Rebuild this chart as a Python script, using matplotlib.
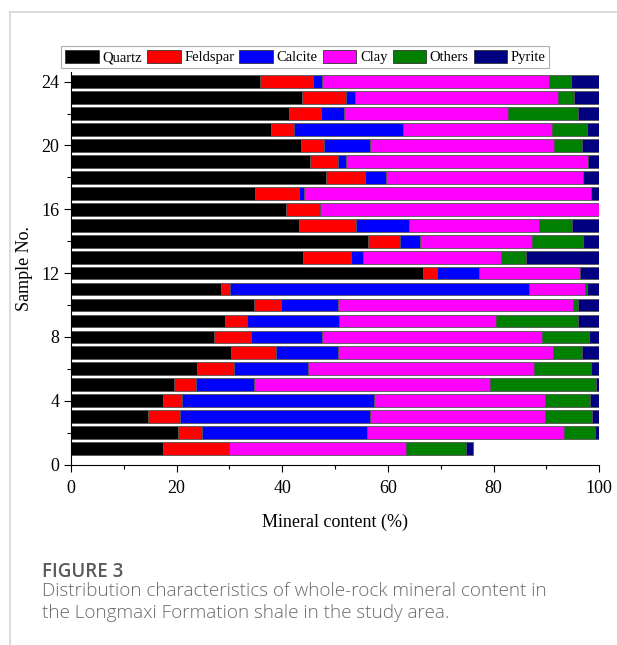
import numpy as np
import matplotlib.pyplot as plt
from matplotlib.ticker import MultipleLocator
from matplotlib.lines import Line2D

# whole-rock mineral content (%) of samples 1..24
samples = np.arange(1, 25)
quartz = [17.4, 20.3, 14.5, 17.5, 19.4, 23.9, 30.2, 27.1, 29.2, 34.7, 28.3, 66.6,
          44.0, 56.3, 43.2, 40.7, 34.8, 48.2, 45.3, 43.5, 37.9, 41.3, 43.7, 35.8]
feldspar = [12.5, 4.5, 6.2, 3.5, 4.3, 7.0, 8.6, 6.9, 4.2, 5.1, 1.8, 2.6,
            9.0, 6.0, 10.8, 6.5, 8.4, 7.4, 5.2, 4.4, 4.3, 6.0, 8.4, 10.1]
calcite = [0.0, 31.2, 35.9, 36.4, 11.0, 14.0, 11.8, 13.5, 17.4, 10.8, 56.6, 8.0,
           2.2, 3.8, 10.0, 0.0, 0.9, 4.1, 1.5, 8.7, 20.6, 4.3, 1.6, 1.6]
clay = [33.6, 37.4, 33.2, 32.4, 44.7, 42.8, 40.7, 41.6, 29.6, 44.5, 10.5, 19.1,
        26.2, 21.2, 24.6, 52.8, 54.3, 37.2, 45.8, 34.9, 28.2, 31.2, 38.4, 43.0]
others = [11.3, 5.7, 8.8, 8.5, 20.0, 10.8, 5.5, 8.9, 15.6, 0.8, 0.5, 0.0,
          4.7, 9.7, 6.3, 0.0, 0.0, 0.0, 0.0, 5.2, 6.7, 13.2, 3.2, 4.1]
pyrite = [1.2, 0.9, 1.4, 1.7, 0.6, 1.5, 3.2, 2.0, 4.0, 4.1, 2.3, 3.7,
          13.9, 3.0, 5.1, 0.0, 1.6, 3.1, 2.2, 3.3, 2.3, 4.0, 4.7, 5.4]

names = ["Quartz", "Feldspar", "Calcite", "Clay", "Others", "Pyrite"]
colors = ["#000000", "#ff0000", "#0000ff", "#ff00ff", "#008000", "#000080"]
series = [quartz, feldspar, calcite, clay, others, pyrite]

fig = plt.figure(figsize=(6.17, 6.45), dpi=100)
ax = fig.add_axes([0.1151, 0.2798, 0.8562, 0.6084])

left = np.zeros(len(samples))
for vals, c, n in zip(series, colors, names):
    ax.barh(samples, vals, left=left, height=0.8, color=c, label=n,
            edgecolor="#555555", linewidth=0.6)
    left += np.array(vals)

ax.set_xlim(0, 100)
ax.set_ylim(0, 24.6)
ax.xaxis.set_major_locator(MultipleLocator(20))
ax.xaxis.set_minor_locator(MultipleLocator(10))
ax.yaxis.set_major_locator(MultipleLocator(4))
ax.yaxis.set_minor_locator(MultipleLocator(2))
ax.spines["top"].set_visible(False)
ax.spines["right"].set_visible(False)
for s in ["left", "bottom"]:
    ax.spines[s].set_linewidth(0.8)

serif = "Liberation Serif"
ax.tick_params(which="major", length=5, width=0.8, labelsize=13)
ax.tick_params(axis="x", which="major", pad=6)
ax.tick_params(which="minor", length=3, width=0.8)
for lbl in ax.get_xticklabels() + ax.get_yticklabels():
    lbl.set_fontfamily(serif)

ax.set_xlabel("Mineral content (%)", fontsize=13, family=serif, labelpad=12)
ax.set_ylabel("Sample No.", fontsize=13, family=serif, labelpad=6)

handles = [plt.Rectangle((0, 0), 1, 1, facecolor=c, edgecolor="#333333", linewidth=0.6)
           for c in colors]
leg = fig.legend(handles, names, loc="center", bbox_to_anchor=(0.495, 0.9116),
                 ncol=6, frameon=True, fancybox=False, edgecolor="#999999",
                 prop={"family": serif, "size": 10.5}, handlelength=2.3,
                 handleheight=1.0, handletextpad=0.25, columnspacing=0.35,
                 borderpad=0.25, borderaxespad=0)
leg.get_frame().set_linewidth(0.8)

# card border and caption
fig.add_artist(Line2D([10 / 617, 1], [1 - 12 / 645] * 2, color="#d6d6d6", lw=1.2))
fig.add_artist(Line2D([10 / 617] * 2, [0, 1 - 12 / 645], color="#d6d6d6", lw=1.2))
fig.text(42 / 617, 1 - 572 / 645, "FIGURE 3", family="Open Sans", fontsize=13.5,
         color="#5a5a5a", va="center", weight="semibold")
fig.text(42 / 617, 1 - 591 / 645,
         "Distribution characteristics of whole-rock mineral content in",
         family="Open Sans", fontsize=13.6, color="#6a6a6a", va="center", weight="light")
fig.text(42 / 617, 1 - 613 / 645,
         "the Longmaxi Formation shale in the study area.",
         family="Open Sans", fontsize=13.6, color="#6a6a6a", va="center", weight="light")

fig.savefig("out.png", dpi=100)
